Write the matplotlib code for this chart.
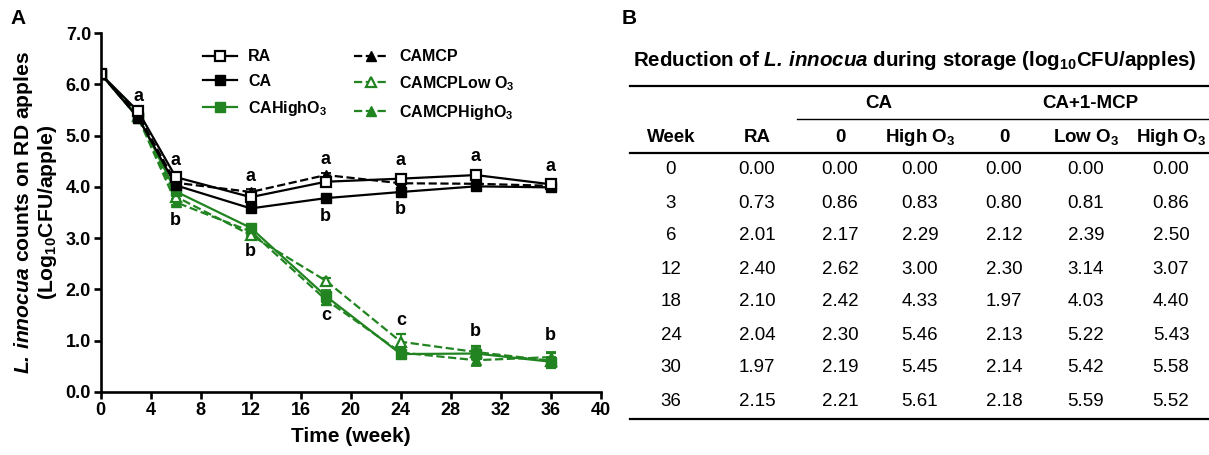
import matplotlib
matplotlib.use("Agg")
import matplotlib.pyplot as plt

plt.rcParams['font.family'] = ['Liberation Sans', 'DejaVu Sans']
plt.rcParams['mathtext.fontset'] = 'custom'
plt.rcParams['mathtext.rm'] = 'Liberation Sans'
plt.rcParams['mathtext.it'] = 'Liberation Sans:italic'
plt.rcParams['mathtext.bf'] = 'Liberation Sans:bold'
plt.rcParams['mathtext.bfit'] = 'Liberation Sans:bold:italic'

GREEN = '#218421'

# ---- panel A data (log CFU/apple) ----
weeks = [0, 3, 6, 12, 18, 24, 30, 36]
ra = [6.20, 5.47, 4.19, 3.80, 4.10, 4.16, 4.23, 4.05]
ca = [6.20, 5.34, 4.03, 3.58, 3.78, 3.90, 4.01, 3.99]
ca_high = [6.20, 5.37, 3.91, 3.20, 1.87, 0.74, 0.75, 0.59]
camcp = [6.20, 5.40, 4.08, 3.90, 4.23, 4.07, 4.06, 4.02]
camcp_low = [6.20, 5.39, 3.81, 3.06, 2.17, 0.98, 0.78, 0.61]
camcp_high = [6.20, 5.34, 3.70, 3.13, 1.80, 0.77, 0.62, 0.68]

err_ra = [0.03, 0.04, 0.04, 0.04, 0.04, 0.04, 0.04, 0.04]
err_ca = [0.03, 0.04, 0.04, 0.04, 0.03, 0.04, 0.03, 0.03]
err_ca_high = [0.03, 0.04, 0.05, 0.06, 0.12, 0.08, 0.10, 0.10]
err_camcp = [0.03, 0.04, 0.04, 0.05, 0.04, 0.04, 0.03, 0.03]
err_camcp_low = [0.03, 0.04, 0.05, 0.05, 0.06, 0.15, 0.12, 0.15]
err_camcp_high = [0.03, 0.04, 0.05, 0.05, 0.10, 0.08, 0.12, 0.10]

# significance letters
letter_x = [3, 6, 6, 12, 12, 18, 18, 18, 24, 24, 24, 30, 30, 36, 36]
letter_y = [5.77, 4.52, 3.35, 4.20, 2.73, 4.54, 3.43, 1.50, 4.52, 3.55, 1.40, 4.59, 1.17, 4.39, 1.11]
letter_txt = ['a', 'a', 'b', 'a', 'b', 'a', 'b', 'c', 'a', 'b', 'c', 'a', 'b', 'a', 'b']

# ---- panel B table data (reduction, log10 CFU/apples) ----
tab_weeks = ['0', '3', '6', '12', '18', '24', '30', '36']
red_ra = ['0.00', '0.73', '2.01', '2.40', '2.10', '2.04', '1.97', '2.15']
red_ca0 = ['0.00', '0.86', '2.17', '2.62', '2.42', '2.30', '2.19', '2.21']
red_ca_high = ['0.00', '0.83', '2.29', '3.00', '4.33', '5.46', '5.45', '5.61']
red_mcp0 = ['0.00', '0.80', '2.12', '2.30', '1.97', '2.13', '2.14', '2.18']
red_mcp_low = ['0.00', '0.81', '2.39', '3.14', '4.03', '5.22', '5.42', '5.59']
red_mcp_high = ['0.00', '0.86', '2.50', '3.07', '4.40', '5.43', '5.58', '5.52']

x_ticks = list(range(0, 41, 4))
y_ticks = [0, 1, 2, 3, 4, 5, 6, 7]

fig = plt.figure(figsize=(12.09, 4.55), dpi=100)
ax = fig.add_axes([100.8 / 1209, 1 - 392 / 455, 500 / 1209, 359 / 455])

common = dict(lw=1.6, ms=7, capsize=3.5, elinewidth=1.3, capthick=1.3)
ax.errorbar(weeks, camcp_high, yerr=err_camcp_high, color=GREEN, ls='--', marker='^',
            mfc=GREEN, label=r'CAMCPHighO$_\mathbf{3}$', **common)
ax.errorbar(weeks, camcp_low, yerr=err_camcp_low, color=GREEN, ls='--', marker='^',
            mfc='white', mew=1.6, label=r'CAMCPLow O$_\mathbf{3}$', **common)
ax.errorbar(weeks, ca_high, yerr=err_ca_high, color=GREEN, ls='-', marker='s',
            mfc=GREEN, label=r'CAHighO$_\mathbf{3}$', **common)
ax.errorbar(weeks, camcp, yerr=err_camcp, color='black', ls='--', marker='^',
            mfc='black', label='CAMCP', **common)
ax.errorbar(weeks, ca, yerr=err_ca, color='black', ls='-', marker='s',
            mfc='black', label='CA', **common)
ax.errorbar(weeks, ra, yerr=err_ra, color='black', ls='-', marker='s',
            mfc='white', mew=1.6, label='RA', **common)

for x, y, t in zip(letter_x, letter_y, letter_txt):
    ax.text(x, y, t, ha='center', va='center', fontsize=13, fontweight='bold')

ax.set_xlim(0, 40)
ax.set_ylim(0, 7)
ax.set_xticks(x_ticks)
ax.set_xticklabels([str(v) for v in x_ticks], fontsize=13, fontweight='bold')
ax.set_yticks(y_ticks)
ax.set_yticklabels(['%.1f' % v for v in y_ticks], fontsize=13, fontweight='bold')
for s in ['top', 'right']:
    ax.spines[s].set_visible(False)
for s in ['left', 'bottom']:
    ax.spines[s].set_linewidth(1.9)
ax.tick_params(width=1.9, length=5, pad=2)
ax.set_xlabel('Time (week)', fontsize=15, fontweight='bold', labelpad=6)
ax.set_ylabel(r'$\mathbfit{L.\,innocua}$ counts on RD apples' + '\n' + r'(Log$_\mathbf{10}$CFU/apple)',
              fontsize=15.2, fontweight='bold', linespacing=1.05, labelpad=5)

# legend uses the plain line+marker part of each errorbar
handles, labels = ax.get_legend_handles_labels()
order = ['RA', 'CA', r'CAHighO$_\mathbf{3}$', 'CAMCP', r'CAMCPLow O$_\mathbf{3}$', r'CAMCPHighO$_\mathbf{3}$']
hmap = dict(zip(labels, handles))
ax.legend([hmap[k][0] for k in order], order, ncol=2, frameon=False,
          loc='upper left', bbox_to_anchor=(0.205, 0.955), borderpad=0, borderaxespad=0,
          handlelength=2.1, handletextpad=0.7, columnspacing=1.7, labelspacing=0.62,
          prop={'weight': 'bold', 'size': 11.5})

fig.text(10 / 1209, 1 - 18 / 455, 'A', fontsize=15, fontweight='bold', va='center')
fig.text(622 / 1209, 1 - 18 / 455, 'B', fontsize=15, fontweight='bold', va='center')

# ---- panel B table ----
tx = fig.add_axes([0, 0, 1, 1])
tx.set_xlim(0, 1209)
tx.set_ylim(455, 0)
tx.axis('off')

tx.text(915, 61, r'Reduction of $\mathbfit{L.\,innocua}$ during storage (log$_\mathbf{10}$CFU/apples)',
        ha='center', va='center', fontsize=14.8, fontweight='bold')
tx.plot([630, 1209], [86, 86], color='black', lw=1.6)
tx.plot([797, 1209], [119, 119], color='black', lw=1.0)
tx.plot([630, 1209], [153, 153], color='black', lw=1.6)
tx.plot([630, 1209], [419, 419], color='black', lw=1.6)

tx.text(879, 104, 'CA', ha='center', va='center', fontsize=13.5, fontweight='bold')
tx.text(1090, 104, 'CA+1-MCP', ha='center', va='center', fontsize=13.5, fontweight='bold')

col_x = [671, 757, 840, 920, 1004, 1086, 1171]
heads = ['Week', 'RA', '0', r'High O$_\mathbf{3}$', '0', r'Low O$_\mathbf{3}$', r'High O$_\mathbf{3}$']
for x, h in zip(col_x, heads):
    tx.text(x, 137, h, ha='center', va='center', fontsize=13.5, fontweight='bold')

cols = [tab_weeks, red_ra, red_ca0, red_ca_high, red_mcp0, red_mcp_low, red_mcp_high]
for i in range(len(tab_weeks)):
    y = 170 + 33 * i
    for x, c in zip(col_x, cols):
        tx.text(x, y, c[i], ha='center', va='center', fontsize=13.5)

fig.savefig('out.png', dpi=100)
